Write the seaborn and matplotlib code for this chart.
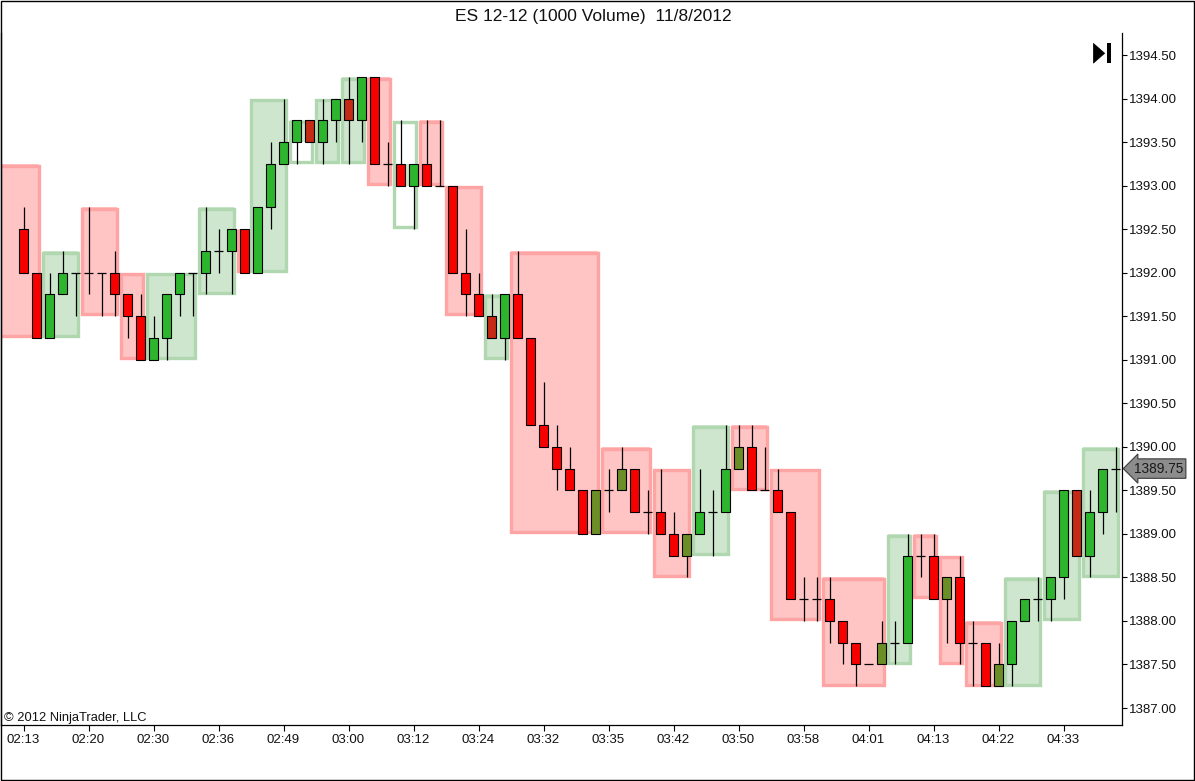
import numpy as np
import pandas as pd
import seaborn as sns
import matplotlib
matplotlib.use("Agg")
import matplotlib.pyplot as plt
from matplotlib.patches import Rectangle, Polygon
import matplotlib.transforms as mtransforms

# ---------------- data ----------------
opens = [1392.5, 1392.0, 1391.25, 1391.75, 1392.0, 1392.0, 1392.0, 1392.0, 1391.75, 1391.5,
         1391.0, 1391.25, 1391.75, 1392.0, 1392.0, 1392.25, 1392.25, 1392.5, 1392.0, 1392.75,
         1393.25, 1393.5, 1393.75, 1393.5, 1393.75, 1394.0, 1393.75, 1394.25, 1393.25, 1393.25,
         1393.0, 1393.25, 1393.0, 1393.0, 1392.0, 1391.75, 1391.5, 1391.25, 1391.75, 1391.25,
         1390.25, 1390.0, 1389.75, 1389.5, 1389.0, 1389.5, 1389.5, 1389.75, 1389.25, 1389.25,
         1389.0, 1388.75, 1389.0, 1389.25, 1389.25, 1389.75, 1390.0, 1389.5, 1389.5, 1389.25,
         1388.25, 1388.25, 1388.25, 1388.0, 1387.75, 1387.5, 1387.5, 1387.75, 1387.75, 1388.75,
         1388.75, 1388.25, 1388.5, 1387.75, 1387.75, 1387.25, 1387.5, 1388.0, 1388.25, 1388.25,
         1388.5, 1389.5, 1388.75, 1389.25, 1389.75]
highs = [1392.75, 1392.0, 1392.0, 1392.25, 1392.0, 1392.75, 1392.0, 1392.25, 1391.75, 1391.75,
         1391.5, 1391.75, 1392.0, 1392.0, 1392.75, 1392.5, 1392.5, 1392.5, 1392.75, 1393.5,
         1394.0, 1393.75, 1393.75, 1394.0, 1394.0, 1394.25, 1394.25, 1394.25, 1393.5, 1393.75,
         1393.25, 1393.75, 1393.75, 1393.0, 1392.5, 1392.0, 1391.75, 1391.75, 1392.25, 1391.25,
         1390.75, 1390.25, 1390.0, 1389.5, 1389.5, 1389.75, 1390.0, 1389.75, 1389.5, 1389.75,
         1389.25, 1389.0, 1389.75, 1389.5, 1390.25, 1390.25, 1390.25, 1390.0, 1389.75, 1389.25,
         1388.5, 1388.5, 1388.5, 1388.0, 1387.75, 1387.5, 1388.0, 1388.0, 1389.0, 1389.0,
         1389.0, 1388.5, 1388.75, 1388.0, 1387.75, 1387.75, 1388.0, 1388.25, 1388.5, 1388.5,
         1389.5, 1389.5, 1389.5, 1389.75, 1390.0]
lows = [1392.0, 1391.25, 1391.25, 1391.75, 1391.5, 1391.75, 1391.5, 1391.5, 1391.25, 1391.0,
        1391.0, 1391.0, 1391.5, 1391.5, 1391.75, 1392.0, 1391.75, 1392.0, 1392.0, 1392.5,
        1393.25, 1393.25, 1393.5, 1393.25, 1393.5, 1393.25, 1393.5, 1393.25, 1393.0, 1393.0,
        1392.5, 1393.0, 1393.0, 1392.0, 1391.5, 1391.5, 1391.25, 1391.0, 1391.25, 1390.25,
        1390.0, 1389.5, 1389.5, 1389.0, 1389.0, 1389.25, 1389.5, 1389.25, 1389.0, 1389.0,
        1388.75, 1388.5, 1389.0, 1388.75, 1389.25, 1389.75, 1389.5, 1389.5, 1389.25, 1388.25,
        1388.0, 1388.0, 1387.75, 1387.5, 1387.25, 1387.5, 1387.5, 1387.5, 1387.75, 1388.5,
        1388.25, 1387.75, 1387.5, 1387.25, 1387.25, 1387.25, 1387.25, 1388.0, 1388.0, 1388.0,
        1388.25, 1388.75, 1388.5, 1389.0, 1389.25]
closes = [1392.0, 1391.25, 1391.75, 1392.0, 1392.0, 1392.0, 1392.0, 1391.75, 1391.5, 1391.0,
          1391.25, 1391.75, 1392.0, 1392.0, 1392.25, 1392.25, 1392.5, 1392.0, 1392.75, 1393.25,
          1393.5, 1393.75, 1393.5, 1393.75, 1394.0, 1393.75, 1394.25, 1393.25, 1393.25, 1393.0,
          1393.25, 1393.0, 1393.0, 1392.0, 1391.75, 1391.5, 1391.25, 1391.75, 1391.25, 1390.25,
          1390.0, 1389.75, 1389.5, 1389.0, 1389.5, 1389.5, 1389.75, 1389.25, 1389.25, 1389.0,
          1388.75, 1389.0, 1389.25, 1389.25, 1389.75, 1390.0, 1389.5, 1389.5, 1389.25, 1388.25,
          1388.25, 1388.25, 1388.0, 1387.75, 1387.5, 1387.5, 1387.75, 1387.75, 1388.75, 1388.75,
          1388.25, 1388.5, 1387.75, 1387.75, 1387.25, 1387.5, 1388.0, 1388.25, 1388.25, 1388.5,
          1389.5, 1388.75, 1389.25, 1389.75, 1389.75]
dark_down_idx = [22, 25, 36, 81]
olive_up_idx = [44, 46, 51, 55, 66, 71, 75]

# higher-timeframe boxes
box_start = [-3, 2, 5, 8, 10, 14, 17, 18, 21, 23, 25, 27, 29, 31, 33, 36, 38, 45, 49, 52,
             55, 58, 62, 67, 69, 71, 73, 76, 79, 82]
box_end = [1, 4, 7, 9, 13, 16, 17, 20, 22, 24, 26, 28, 30, 32, 35, 37, 44, 48, 51, 54,
           57, 61, 66, 68, 70, 72, 75, 78, 81, 84]
box_high = [1393.25, 1392.25, 1392.75, 1392.0, 1392.0, 1392.75, 1392.5, 1394.0, 1393.75, 1394.0,
            1394.25, 1394.25, 1393.75, 1393.75, 1393.0, 1391.75, 1392.25, 1390.0, 1389.75, 1390.25,
            1390.25, 1389.75, 1388.5, 1389.0, 1389.0, 1388.75, 1388.0, 1388.5, 1389.5, 1390.0]
box_low = [1391.25, 1391.25, 1391.5, 1391.0, 1391.0, 1391.75, 1392.0, 1392.0, 1393.25, 1393.25,
           1393.25, 1393.0, 1392.5, 1393.0, 1391.5, 1391.0, 1389.0, 1389.0, 1388.5, 1388.75,
           1389.5, 1388.0, 1387.25, 1387.5, 1388.25, 1387.5, 1387.25, 1387.25, 1388.0, 1388.5]
box_fill_top = [1393.25, 1392.25, 1392.75, 1392.0, 1392.0, 1392.75, 1392.5, 1394.0, 1393.75, 1394.0,
                1394.25, 1394.25, 1393.25, 1393.75, 1393.0, 1391.75, 1392.25, 1390.0, 1389.75, 1390.25,
                1390.25, 1389.75, 1388.5, 1389.0, 1389.0, 1388.75, 1388.0, 1388.5, 1389.5, 1390.0]
box_fill_bot = [1391.25, 1391.25, 1391.5, 1391.0, 1391.0, 1391.75, 1392.0, 1392.0, 1393.5, 1393.25,
                1393.25, 1393.0, 1393.0, 1393.0, 1391.5, 1391.0, 1389.0, 1389.0, 1388.5, 1388.75,
                1389.5, 1388.0, 1387.25, 1387.5, 1388.25, 1387.5, 1387.25, 1387.25, 1388.0, 1388.5]
box_up = [False, True, False, False, True, True, False, True, True, True,
          True, False, True, False, False, True, False, False, False, True,
          False, False, False, True, False, False, False, True, True, True]

tick_pos = list(range(0, 85, 5))
tick_labels = ["02:13", "02:20", "02:30", "02:36", "02:49", "03:00", "03:12", "03:24", "03:32",
               "03:35", "03:42", "03:50", "03:58", "04:01", "04:13", "04:22", "04:33"]
price_ticks = [1387.0, 1387.5, 1388.0, 1388.5, 1389.0, 1389.5, 1390.0, 1390.5, 1391.0,
               1391.5, 1392.0, 1392.5, 1393.0, 1393.5, 1394.0, 1394.5]
last_price = 1389.75
title = "ES 12-12 (1000 Volume)  11/8/2012"

df = pd.DataFrame({"o": opens, "h": highs, "l": lows, "c": closes})
df["i"] = np.arange(len(df))

# ---------------- style ----------------
sns.set_theme(style="white")
plt.rcParams['font.family'] = ['Liberation Sans', 'DejaVu Sans']

UP = "#2EB52E"
DOWN = "#F70000"
DARK_DOWN = "#C42A14"
OLIVE = "#6B8F26"
G_FILL, G_EDGE = "#CDE6CD", "#B0D7B0"
R_FILL, R_EDGE = "#FFC4C4", "#FFA4A4"

fig = plt.figure(figsize=(11.95, 7.81), dpi=100)
fig.patch.set_facecolor("white")
ax = fig.add_axes([1 / 1195, 56 / 781, 1121 / 1195, 692 / 781])
ax.set_facecolor("white")

px_per_pt = 87.07
y_bottom = 1394.5 - (725 - 55) / px_per_pt
y_top = 1394.5 + (55 - 33) / px_per_pt
ax.set_ylim(y_bottom, y_top)
x_left = -22.5 / 13.0
x_right = x_left + 1121 / 13.0
ax.set_xlim(x_left, x_right)

# boxes
lw_box = 2.4
inset_y = 0.02
for s, e, hi, lo, ft, fb, up in zip(box_start, box_end, box_high, box_low,
                                     box_fill_top, box_fill_bot, box_up):
    x0 = s - 0.52
    w = (e + 0.17) - x0
    fill = G_FILL if up else R_FILL
    edge = G_EDGE if up else R_EDGE
    if ft > fb:
        ax.add_patch(Rectangle((x0, fb), w, ft - fb, facecolor=fill, edgecolor="none",
                               zorder=1))
    ax.add_patch(Rectangle((x0, lo + inset_y), w, hi - lo - 2 * inset_y, facecolor="none",
                           edgecolor=edge, linewidth=lw_box, zorder=1.5))

# wicks
ax.vlines(df["i"], df["l"], df["h"], color="black", linewidth=0.9, zorder=2)

# bodies
bw = 0.64
colors = []
for k, r in df.iterrows():
    if r.c > r.o:
        colors.append(OLIVE if k in olive_up_idx else UP)
    else:
        colors.append(DARK_DOWN if k in dark_down_idx else DOWN)
body = df[df.c != df.o]
ax.bar(body["i"], (body.c - body.o).abs(), bottom=np.minimum(body.o, body.c), width=bw,
       color=[colors[k] for k in body.index], edgecolor="black", linewidth=0.8, zorder=3)
doji = df[df.c == df.o]
ax.hlines(doji["o"], doji["i"] - bw / 2, doji["i"] + bw / 2, color="black", linewidth=0.9,
          zorder=3)

# axes cosmetics
sns.despine(ax=ax, top=True, right=False, left=False, bottom=False)
for sp in ["left", "right", "bottom"]:
    ax.spines[sp].set_color("black")
    ax.spines[sp].set_linewidth(0.9)
ax.yaxis.tick_right()
ax.set_yticks(price_ticks)
ax.set_yticklabels([f"{v:.2f}" for v in price_ticks])
ax.set_xticks(tick_pos)
ax.set_xticklabels(tick_labels)
ax.tick_params(axis="y", which="both", direction="out", length=3.8, width=0.8, color="black",
               labelsize=9.5, labelcolor="#111111", pad=1.5, right=True, left=False)
ax.tick_params(axis="x", which="both", direction="out", length=4.3, width=0.8, color="black",
               labelsize=9.5, labelcolor="#111111", pad=2, bottom=True)
ax.grid(False)

# last price marker
trans = mtransforms.blended_transform_factory(ax.transAxes, ax.transData)
ax.text(1.0105, last_price, f"{last_price:.2f}", transform=trans, ha="left", va="center",
        fontsize=9.8, color="#1a1a1a", clip_on=False, zorder=10,
        bbox=dict(boxstyle="larrow,pad=0.2", fc="#8c8c8c", ec="#3a3a3a", lw=0.8))

# "go to end" icon
ax.add_patch(Polygon([[0.9745, 0.9565], [0.9745, 0.985], [0.9845, 0.9707]], closed=True,
                     transform=ax.transAxes, facecolor="black", edgecolor="black",
                     linewidth=0.5, zorder=10, clip_on=False))
ax.add_patch(Rectangle((0.9862, 0.9565), 0.0040, 0.0285, transform=ax.transAxes,
                       facecolor="black", edgecolor="none", zorder=10, clip_on=False))

# copyright
ax.text(3 / 1121, (725 - 721) / 692, "\u00a9 2012 NinjaTrader, LLC", transform=ax.transAxes,
        ha="left", va="baseline", fontsize=9.3, color="#111111", zorder=10)

# title
fig.text(0.4965, 1 - 16 / 781, title, ha="center", va="center", fontsize=12.5, color="#111111")

# figure frame
fig.add_artist(Rectangle((0.0005, 0.0008), 0.999, 0.998, transform=fig.transFigure,
                         fill=False, edgecolor="black", linewidth=1.0))

fig.savefig("out.png", dpi=100, facecolor="white")
